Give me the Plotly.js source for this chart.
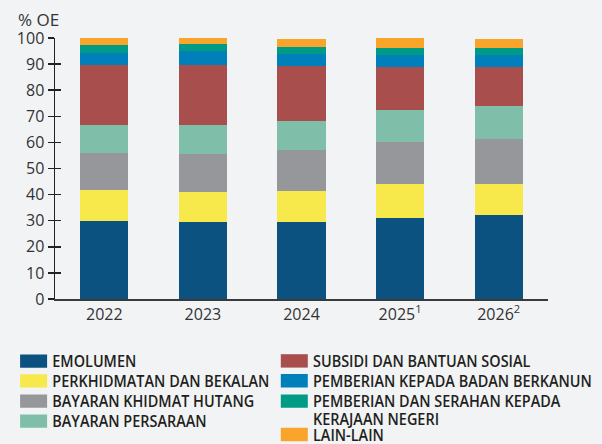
<!DOCTYPE html>
<html>
<head>
<meta charset="utf-8">
<script src="https://cdn.plot.ly/plotly-3.0.1.min.js"></script>
<style>html,body{margin:0;padding:0;background:#f2f3f5;}#chart{width:602px;height:444px;}</style>
</head>
<body>
<div id="chart"></div>
<script>
const years = ['2022', '2023', '2024', '2025', '2026'];
const yearLabels = ['2022', '2023', '2024', '2025<sup>1</sup>', '2026<sup>2</sup>'];
const seriesNames = [
  'EMOLUMEN',
  'PERKHIDMATAN DAN BEKALAN',
  'BAYARAN KHIDMAT HUTANG',
  'BAYARAN PERSARAAN',
  'SUBSIDI DAN BANTUAN SOSIAL',
  'PEMBERIAN KEPADA BADAN BERKANUN',
  'PEMBERIAN DAN SERAHAN KEPADA<br>KERAJAAN NEGERI',
  'LAIN-LAIN'
];
const emolumen      = [30.0, 29.5, 29.5, 31.0, 32.2];
const perkhidmatan  = [11.8, 11.5, 11.9, 13.1, 11.9];
const khidmatHutang = [14.1, 14.6, 15.7, 16.1, 17.2];
const persaraan     = [10.7, 11.1, 11.1, 12.2, 12.6];
const subsidi       = [23.0, 23.0, 21.2, 16.5, 14.8];
const badanBerkanun = [4.6, 5.3, 4.5, 4.6, 4.9];
const kerajaanNegeri= [3.0, 2.7, 2.7, 2.7, 2.6];
const lainLain      = [2.7, 2.3, 3.0, 3.8, 3.4];
const yTicks = [0, 10, 20, 30, 40, 50, 60, 70, 80, 90, 100];

const values = [emolumen, perkhidmatan, khidmatHutang, persaraan, subsidi, badanBerkanun, kerajaanNegeri, lainLain];
const colors = ['#0b5281', '#f7e94b', '#96979b', '#7fbfaa', '#a84f4e', '#0080bb', '#009b85', '#f9a52b'];
const legendIds = ['legend', 'legend3', 'legend5', 'legend7', 'legend2', 'legend4', 'legend6', 'legend8'];

const traces = values.map((v, i) => ({
  type: 'bar',
  x: years,
  y: v,
  name: seriesNames[i],
  marker: {color: colors[i], line: {width: 0}},
  legend: legendIds[i],
  hoverinfo: 'skip'
}));
// invisible helper trace so the crossing-tick axis is drawn
traces.push({type: 'scatter', x: [years[0]], y: [0], yaxis: 'y2', mode: 'markers', marker: {opacity: 0}, showlegend: false, hoverinfo: 'skip'});

const legFont = {family: '"Open Sans", sans-serif', size: 16, weight: 600, color: '#231f20'};
function leg(xPx, textCenterPx, valign) {
  return {
    x: (xPx - 55) / 493, xanchor: 'left', xref: 'paper',
    y: (299 - (textCenterPx - 16.4)) / 261, yanchor: 'top', yref: 'paper',
    orientation: 'v', bgcolor: 'rgba(0,0,0,0)', borderwidth: 0,
    font: legFont, valign: valign || 'middle', traceorder: 'normal'
  };
}

const axisFont = {family: '"Open Sans", sans-serif', size: 16, color: '#333333'};
const layout = {
  width: 602, height: 444,
  paper_bgcolor: '#f2f3f5', plot_bgcolor: '#f2f3f5',
  margin: {l: 55, r: 54, t: 38, b: 145, autoexpand: false},
  barmode: 'stack',
  bargap: 0.513,
  showlegend: true,
  xaxis: {
    type: 'category',
    tickmode: 'array', tickvals: years, ticktext: yearLabels,
    showline: true, linecolor: '#3a3a3a', linewidth: 2,
    ticks: '', showgrid: false, zeroline: false,
    tickfont: axisFont, fixedrange: true
  },
  yaxis: {
    range: [0, 100], tickmode: 'array', tickvals: yTicks,
    showline: true, linecolor: '#222222', linewidth: 1.5,
    ticks: 'outside', ticklen: 6, tickwidth: 1.5, tickcolor: '#222222',
    showgrid: false, zeroline: false, tickfont: axisFont, fixedrange: true
  },
  yaxis2: {
    overlaying: 'y', side: 'left', anchor: 'x',
    range: [0, 100], tickmode: 'array', tickvals: yTicks,
    ticks: 'inside', ticklen: 6, tickwidth: 1.5, tickcolor: '#222222',
    showticklabels: false, showline: false, showgrid: false, zeroline: false, fixedrange: true
  },
  legend:  leg(12.3, 360.6),
  legend3: leg(12.3, 380.4),
  legend5: leg(12.3, 400.6),
  legend7: leg(12.3, 420.6),
  legend2: leg(273, 360.4),
  legend4: leg(273, 380.2),
  legend6: leg(273, 400.6, 'top'),
  legend8: leg(273, 434.0),
  annotations: [{
    text: '% OE', xref: 'paper', yref: 'paper',
    x: (16 - 55) / 493, xanchor: 'left',
    y: 1 + (38 - 19) / 261, yanchor: 'middle',
    showarrow: false, font: {family: '"Open Sans", sans-serif', size: 17, color: '#333333'}
  }]
};

function finishLegend(gd) {
  // widen symbols to the reference's wide rectangles
  gd.querySelectorAll('g.legendpoints path').forEach(p => {
    p.setAttribute('d', 'M14.8,6.7H-12.2V-6.7H14.8Z');
  });
  // condense legend text horizontally (reference uses a condensed face)
  const texts = Array.from(gd.querySelectorAll('g.traces text'));
  const ref = texts.find(t => t.textContent.indexOf('BADAN BERKANUN') >= 0);
  let s = 0.86;
  if (ref && ref.getComputedTextLength) {
    const w = ref.getComputedTextLength();
    if (w > 0) s = 279 / w;
  }
  texts.forEach(t => {
    const x0 = parseFloat(t.getAttribute('x')) || 0;
    t.setAttribute('transform', 'translate(' + (x0 * (1 - s)) + ',0) scale(' + s + ',1)');
    const lines = t.querySelectorAll('tspan.line');
    lines.forEach((ln, i) => {
      if (i === 0) return;
      const dy = ln.getAttribute('dy');
      if (dy && dy.indexOf('em') > 0) {
        ln.setAttribute('dy', (parseFloat(dy) * 1.08 / 1.3) + 'em');
      } else if (ln.getAttribute('y') !== null) {
        ln.setAttribute('y', parseFloat(ln.getAttribute('y')) - 3.5 * i);
      }
    });
  });
}

Plotly.newPlot('chart', traces, layout, {staticPlot: true, displayModeBar: false}).then(gd => {
  finishLegend(gd);
});
</script>
</body>
</html>
